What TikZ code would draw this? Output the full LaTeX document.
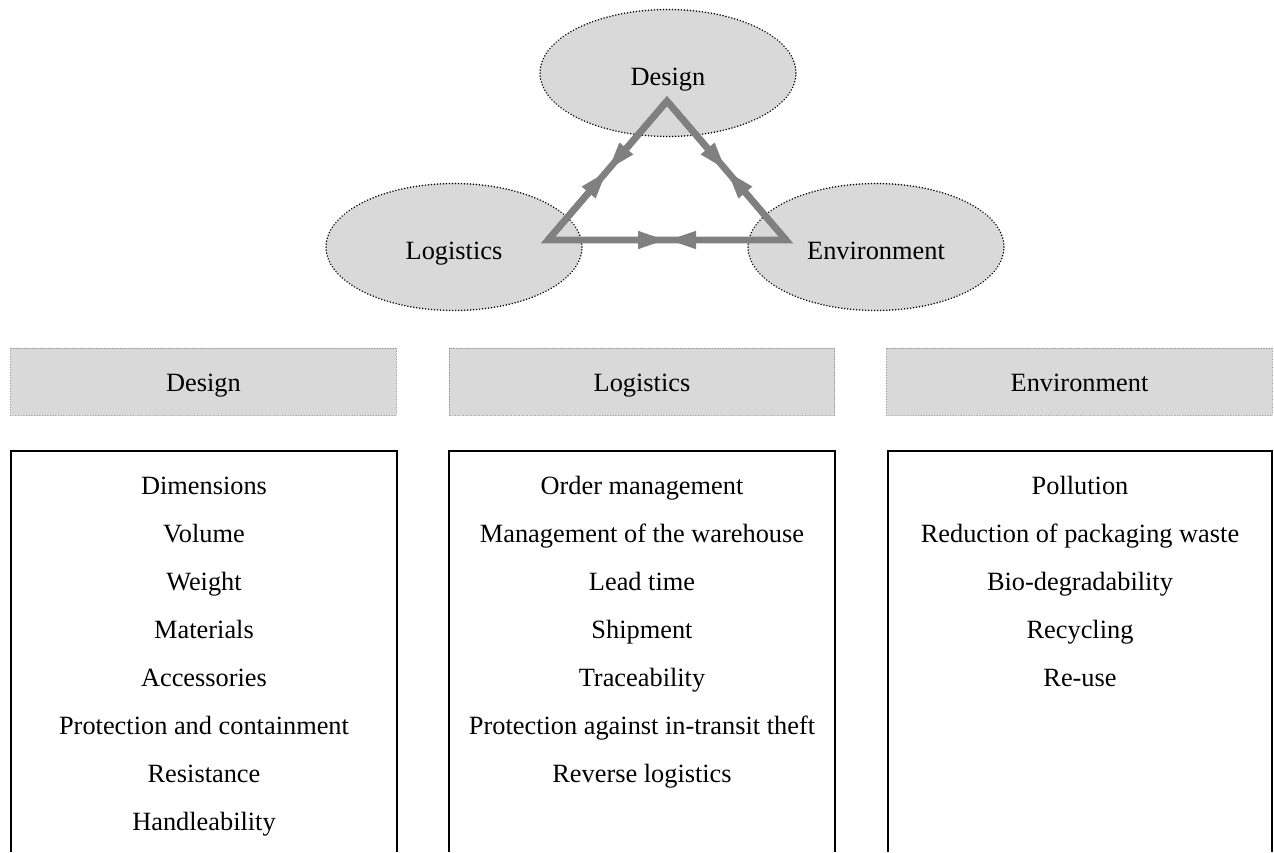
\documentclass[tikz,border=0pt]{standalone}
\usepackage{fontspec}
\setmainfont{Liberation Serif}
\usetikzlibrary{arrows.meta,calc,shapes.geometric}
\definecolor{fillgray}{HTML}{D9D9D9}
\definecolor{linegray}{HTML}{808080}
\definecolor{dotgray}{HTML}{8C8C8C}
\begin{document}
\begin{tikzpicture}[x=0.02cm,y=-0.02cm,
  font=\fontsize{15pt}{17pt}\selectfont,
  ell/.style={ellipse, draw=black, fill=fillgray, line width=0.95pt,
    dash pattern=on 0.01pt off 1.7pt, line cap=round,
    minimum width=5.12cm, minimum height=2.54cm, inner sep=0pt},
  hdr/.style={rectangle, draw=dotgray, fill=fillgray, line width=0.55pt,
    dash pattern=on 0.01pt off 0.9pt, line cap=round,
    minimum width=7.72cm, minimum height=1.34cm, inner sep=0pt,
    text height=0.4cm, text depth=0pt},
  lab/.style={inner sep=0pt, anchor=base},
  item/.style={inner sep=0pt, anchor=base},
  lst/.style={draw=black, line width=1.6pt},
  tri/.style={draw=linegray, line width=3.8pt, line join=miter},
  arr/.style={tri, -{Triangle[length=0.58cm,width=0.32cm]}}
]
\useasboundingbox (0,0) rectangle (1274,852);

% ellipses
\node[ell] (eD) at (668,73) {};
\node[ell] (eL) at (454,247) {};
\node[ell] (eE) at (876,247) {};
\node[lab] (tD) at (668,85) {Design};
\node[lab] (tL) at (454,259) {Logistics};
\node[lab] (tE) at (876,259) {Environment};

% triangle
\coordinate (A) at (667,101);
\coordinate (B) at (548,240);
\coordinate (C) at (786,240);
\coordinate (mAB) at ($(A)!0.5!(B)$);
\coordinate (mAC) at ($(A)!0.5!(C)$);
\coordinate (mBC) at ($(B)!0.5!(C)$);
\draw[tri] (A) -- (B) -- (C) -- cycle;
\draw[arr] (A) -- (mAB);
\draw[arr] (B) -- (mAB);
\draw[arr] (A) -- (mAC);
\draw[arr] (C) -- (mAC);
\draw[arr] (B) -- (mBC);
\draw[arr] (C) -- (mBC);

% headers
\node[hdr] (hD) at (203.5,381.5) {Design};
\node[hdr] (hL) at (642,381.5) {Logistics};
\node[hdr] (hE) at (1079.5,381.5) {Environment};

% list boxes
\draw[lst] (11,852) -- (11,451) -- (397,451) -- (397,852);
\draw[lst] (449,852) -- (449,451) -- (835,451) -- (835,852);
\draw[lst] (888,852) -- (888,451) -- (1272,451) -- (1272,852);

% lists
\foreach \t [count=\i] in {Dimensions,Volume,Weight,Materials,Accessories,Protection and containment,Resistance,Handleability}
  \node[item] (d\i) at (204,{494+48.1*(\i-1)}) {\t};
\foreach \t [count=\i] in {Order management,Management of the warehouse,Lead time,Shipment,Traceability,Protection against in-transit theft,Reverse logistics}
  \node[item] (l\i) at (642,{494+48.1*(\i-1)}) {\t};
\foreach \t [count=\i] in {Pollution,Reduction of packaging waste,Bio-degradability,Recycling,Re-use}
  \node[item] (v\i) at (1080,{494+48.1*(\i-1)}) {\t};
\end{tikzpicture}
\end{document}
